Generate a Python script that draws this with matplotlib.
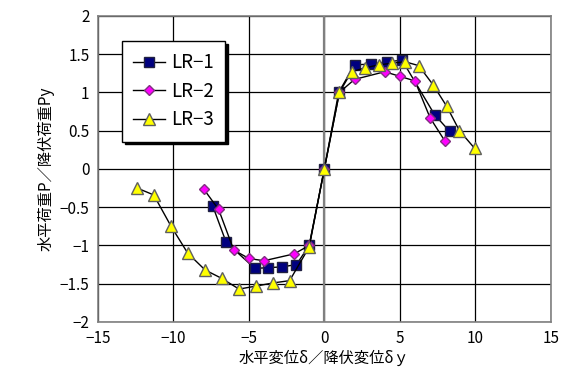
import matplotlib
matplotlib.use("Agg")
import matplotlib.pyplot as plt

plt.rcParams['font.family'] = ['Noto Sans CJK JP', 'DejaVu Sans']

# LR-1
lr1_x = [-7.4, -6.5, -4.6, -3.7, -2.8, -1.85, -1.0, 0.0, 0.95, 2.0, 3.1, 4.15, 5.15, 7.3, 8.3]
lr1_y = [-0.48, -0.96, -1.30, -1.29, -1.28, -1.25, -1.0, 0.0, 1.0, 1.36, 1.37, 1.40, 1.42, 0.71, 0.49]
# LR-2
lr2_x = [-8.0, -7.0, -6.0, -5.0, -4.0, -2.0, -1.0, 0.0, 1.0, 2.0, 4.0, 5.0, 6.0, 7.0, 8.0]
lr2_y = [-0.26, -0.53, -1.06, -1.17, -1.20, -1.11, -1.0, 0.0, 1.0, 1.17, 1.27, 1.21, 1.15, 0.67, 0.36]
# LR-3
lr3_x = [-12.4, -11.3, -10.15, -9.05, -7.9, -6.8, -5.65, -4.5, -3.4, -2.3, -1.0, 0.0, 1.0,
         1.8, 2.7, 3.6, 4.45, 5.35, 6.25, 7.2, 8.1, 8.95, 9.95]
lr3_y = [-0.25, -0.34, -0.75, -1.10, -1.32, -1.43, -1.57, -1.53, -1.49, -1.46, -1.02, 0.0, 1.0,
         1.27, 1.32, 1.36, 1.38, 1.40, 1.35, 1.10, 0.82, 0.50, 0.27]

x_ticks = [-15, -10, -5, 0, 5, 10, 15]
y_ticks = [-2, -1.5, -1, -0.5, 0, 0.5, 1, 1.5, 2]

fig = plt.figure(figsize=(5.69, 3.87), dpi=100)
ax = fig.add_axes([0.172, 0.168, 0.796, 0.791])

ax.plot(lr1_x, lr1_y, color='black', lw=1, marker='s', ms=7,
        mfc='#000080', mec='#202040', label='LR−1', zorder=3)
ax.plot(lr2_x, lr2_y, color='black', lw=1, marker='D', ms=5.5,
        mfc='#ff00ff', mec='#803080', label='LR−2', zorder=3)
ax.plot(lr3_x, lr3_y, color='black', lw=1, marker='^', ms=8,
        mfc='#ffff00', mec='#606060', label='LR−3', zorder=3)

ax.set_xlim(-15, 15)
ax.set_ylim(-2, 2)
ax.set_xticks(x_ticks)
ax.set_yticks(y_ticks)
ax.set_yticklabels(['−2', '−1.5', '−1', '−0.5', '0', '0.5', '1', '1.5', '2'])
ax.set_xticklabels(['−15', '−10', '−5', '0', '5', '10', '15'])
ax.grid(True, color='black', lw=0.9)
ax.axvline(0, color='#808080', lw=1.6, zorder=2)
ax.tick_params(length=0, labelsize=11, pad=6)
for s in ax.spines.values():
    s.set_color('#808080')
    s.set_linewidth(1.2)

ax.set_xlabel('水平変位δ／降伏変位δｙ', fontsize=11, labelpad=2)
ax.set_ylabel('水平荷重P／降伏荷重Py', fontsize=11, labelpad=4)

leg = ax.legend(loc='upper left', bbox_to_anchor=(0.033, 0.948), fontsize=13.5,
                frameon=True, fancybox=False, shadow={'color': 'black', 'alpha': 1},
                edgecolor='black', framealpha=1, handlelength=1.7, handletextpad=0.3,
                labelspacing=0.4, borderpad=0.6)
leg.get_frame().set_linewidth(1)

fig.savefig('out.png', dpi=100)
plt.close()
